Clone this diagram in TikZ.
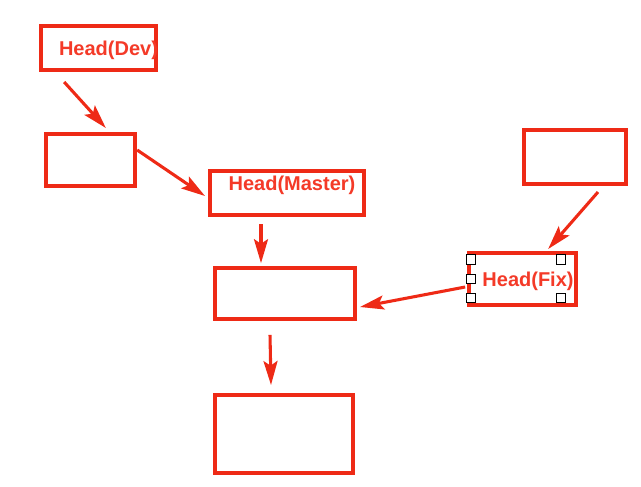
\documentclass[tikz,border=0pt]{standalone}
\usepackage{fontspec}
\newfontfamily\headfont{Liberation Sans}
\usetikzlibrary{arrows.meta,calc,shadows}
\definecolor{boxred}{RGB}{238,42,22}
\definecolor{textred}{RGB}{244,58,40}
\begin{document}
\begin{tikzpicture}[x=0.75pt, y=-0.75pt]
\tikzstyle{box} = [rectangle, draw=boxred, line width=3pt, fill=white, inner sep=0pt, drop shadow={shadow xshift=1.5pt, shadow yshift=-1.5pt, opacity=0.3, fill=gray}]
\tikzstyle{headText} = [text=textred, inner sep=0pt, font=\headfont\bfseries\fontsize{15}{16}\selectfont]
\tikzstyle{link} = [draw=boxred, line width=2.3pt, -{Stealth[length=18pt, width=10.5pt, inset=3.5pt]}]
\tikzstyle{handle} = [rectangle, draw=black, fill=white, line width=0.6pt, minimum width=7pt, minimum height=7pt, inner sep=0pt]
\useasboundingbox (0,0) rectangle (641,486);
\node (HDev) at (98.5,48) [box, minimum width=86pt, minimum height=33pt] {};
\node (TDev) at (108.5,50) [headText] {Head(Dev)};
\node (C1) at (90.5,160) [box, minimum width=67pt, minimum height=39pt] {};
\node (HMaster) at (287,193) [box, minimum width=115.5pt, minimum height=33pt] {};
\node (TMaster) at (292,185) [headText] {Head(Master)};
\node (C2) at (575,157) [box, minimum width=76.5pt, minimum height=40.5pt] {};
\node (HFix) at (522.5,279) [box, minimum width=80pt, minimum height=39pt] {};
\node (TFix) at (528,281) [headText] {Head(Fix)};
\node (C3) at (285,293.5) [box, minimum width=105pt, minimum height=38pt] {};
\node (C4) at (284,434) [box, minimum width=103.5pt, minimum height=58.5pt] {};
% selection handles
\node (S1) at (470.7,259.3) [handle] {};
\node (S2) at (470.7,278.7) [handle] {};
\node (S3) at (470.7,297.7) [handle] {};
\node (S4) at (560.7,259.3) [handle] {};
\node (S5) at (560.7,297.7) [handle] {};
% arrows
\draw[link] ($(HDev.south west)+(25,10)$) -- ($(C1.north west)+(62,-4)$);
\draw[link] ($(C1.north east)+(0,18)$) -- ($(HMaster.west)+(-3,3)$);
\draw[link] ($(HMaster.south west)+(53,7)$) -- ($(C3.north west)+(48,-3)$);
\draw[link] ($(C3.south west)+(57,14)$) -- ($(C4.north west)+(58,-8)$);
\draw[link] ($(C2.south west)+(76,6)$) -- ($(HFix.north west)+(81,-2)$);
\draw[link] ($(HFix.west)+(-2,8)$) -- ($(C3.east)+(3,13.5)$);
\end{tikzpicture}
\end{document}
